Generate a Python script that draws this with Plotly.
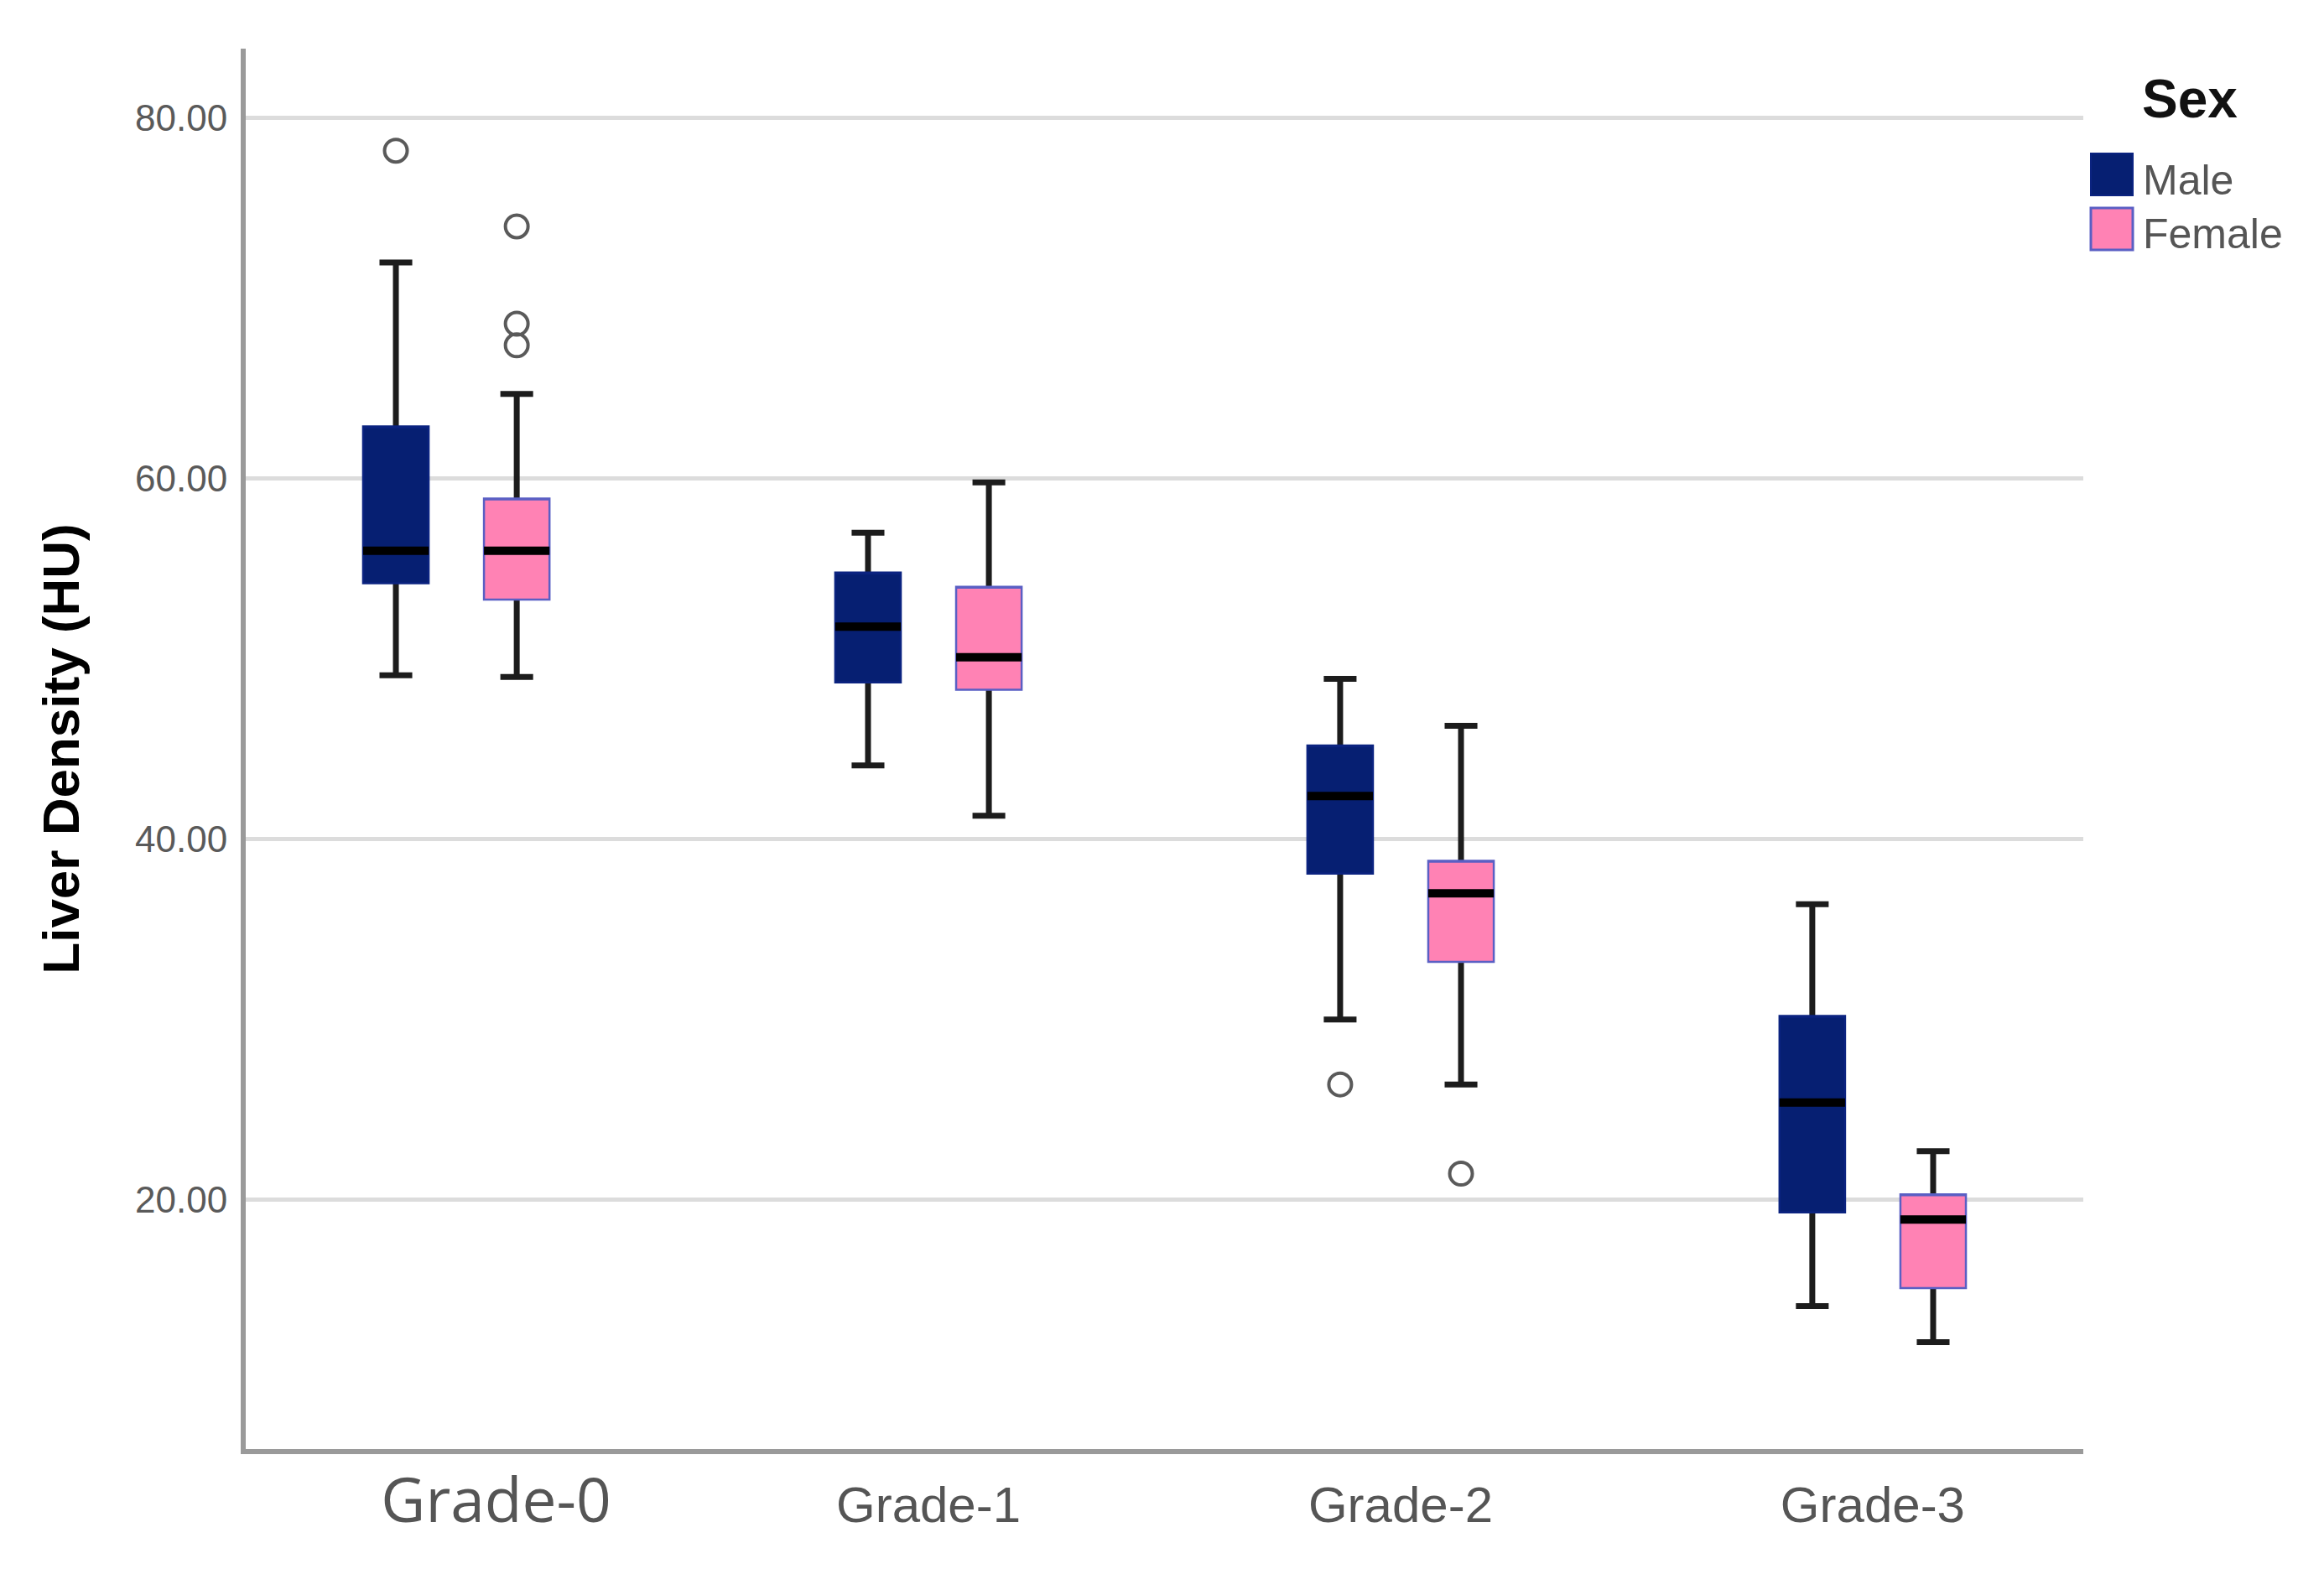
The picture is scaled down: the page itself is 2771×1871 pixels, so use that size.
import plotly.graph_objects as go

# ---------------- data ----------------
categories = ["Grade-0", "Grade-1", "Grade-2", "Grade-3"]
tick_labels = ["Grade-0", "Grade-1", "Grade-2", "Grade-3"]
y_ticks = [20, 40, 60, 80]

male_lower = [49.1, 44.1, 30.0, 14.1]
male_q1 = [54.2, 48.7, 38.1, 19.3]
male_median = [56.0, 51.8, 42.4, 25.4]
male_q3 = [62.9, 54.8, 45.2, 30.2]
male_upper = [72.0, 57.0, 48.9, 36.4]
male_outliers = [[78.2], [], [26.4], []]

female_lower = [49.0, 41.3, 26.4, 12.1]
female_q1 = [53.3, 48.3, 33.2, 15.1]
female_median = [56.0, 50.1, 37.0, 18.9]
female_q3 = [58.9, 54.0, 38.8, 20.3]
female_upper = [64.7, 59.8, 46.3, 22.7]
female_outliers = [[74.0, 68.6, 67.4], [], [21.45], []]

# ---------------- figure ----------------
# the page body has an 8px margin, so the figure is shrunk by that amount
BODY = 8
W, H = 2771 - BODY, 1871 - BODY
ML, MT = 293 - BODY, 58 - BODY
PW, PH = 2191, 1670
MR, MB = W - ML - PW, H - MT - PH

MALE_FILL, MALE_LINE = "#061f72", "#0b2380"
FEMALE_FILL, FEMALE_LINE = "#ff82b4", "#5a5fc4"

fig = go.Figure()


def add_group(name, lower, q1, med, q3, upper, outliers, fill, outline):
    common = dict(x=categories, orientation="v", offsetgroup=name,
                  alignmentgroup="all", showlegend=False, hoverinfo="skip")
    # whiskers, caps and outliers
    fig.add_trace(go.Box(
        q1=med, median=med, q3=med, lowerfence=lower, upperfence=upper,
        y=outliers, boxpoints="all", jitter=0, pointpos=0,
        marker=dict(symbol="circle-open", size=27, color="#5a5a5a",
                    line=dict(width=4, color="#5a5a5a")),
        line=dict(color="#1c1c1c", width=7), whiskerwidth=0.5,
        fillcolor="rgba(0,0,0,0)", name=name, **common))
    # the box body
    fig.add_trace(go.Box(
        q1=q1, median=q3, q3=q3, lowerfence=q1, upperfence=q3,
        boxpoints=False, whiskerwidth=0, fillcolor=fill,
        line=dict(color=outline, width=2.5), name=name, **common))
    # the median bar
    fig.add_trace(go.Box(
        q1=med, median=med, q3=med, lowerfence=med, upperfence=med,
        boxpoints=False, whiskerwidth=0, fillcolor="rgba(0,0,0,0)",
        line=dict(color="#000000", width=10), name=name, **common))


add_group("Male", male_lower, male_q1, male_median, male_q3, male_upper,
          male_outliers, MALE_FILL, MALE_LINE)
add_group("Female", female_lower, female_q1, female_median, female_q3,
          female_upper, female_outliers, FEMALE_FILL, FEMALE_LINE)

ticktext = []
for i, t in enumerate(tick_labels):
    if i == 0:
        ticktext.append('<span style="font-family:Open Sans;font-size:73px">'
                        + "\u00a0" * 5 + t + "</span>")
    else:
        ticktext.append(t)


def px_x(px):
    # window pixel -> paper coordinate
    return (px - BODY - ML) / PW


def px_y(py):
    return (MT + PH - (py - BODY)) / PH


shapes = [
    dict(type="rect", xref="paper", yref="paper",
         x0=px_x(2493), x1=px_x(2543), y0=px_y(233), y1=px_y(183),
         fillcolor=MALE_FILL, line=dict(color=MALE_LINE, width=2)),
    dict(type="rect", xref="paper", yref="paper",
         x0=px_x(2493), x1=px_x(2543), y0=px_y(298), y1=px_y(248),
         fillcolor=FEMALE_FILL, line=dict(color=FEMALE_LINE, width=3)),
]
annotations = [
    dict(text="<b>Sex</b>", xref="paper", yref="paper", x=px_x(2611), y=px_y(118),
         xanchor="center", yanchor="middle", showarrow=False,
         font=dict(family="Liberation Sans, Arial", size=64, color="#111111")),
    dict(text="Male", xref="paper", yref="paper", x=px_x(2553), y=px_y(215),
         xanchor="left", yanchor="middle", showarrow=False,
         font=dict(family="Liberation Sans, Arial", size=50, color="#555555")),
    dict(text="Female", xref="paper", yref="paper", x=px_x(2553), y=px_y(279),
         xanchor="left", yanchor="middle", showarrow=False,
         font=dict(family="Liberation Sans, Arial", size=50, color="#555555")),
]

fig.update_layout(
    width=W, height=H,
    margin=dict(l=ML, r=MR, t=MT, b=MB, pad=0),
    paper_bgcolor="white", plot_bgcolor="white",
    boxmode="group", boxgap=0.488, boxgroupgap=0.458,
    showlegend=False,
    shapes=shapes, annotations=annotations,
    font=dict(family="Liberation Sans, Arial", color="#555555"),
)
fig.update_xaxes(
    type="category", categoryorder="array", categoryarray=categories,
    range=[-0.446, 3.446], tickvals=categories, ticktext=ticktext,
    showgrid=False, zeroline=False, showline=True, linecolor="#9a9a9a",
    linewidth=6, ticks="", ticklabelstandoff=9,
    tickfont=dict(family="Liberation Sans, Arial", size=60, color="#555555"),
    automargin=False,
)
fig.update_yaxes(
    range=[6.17, 83.86], tickvals=y_ticks, tickformat=".2f",
    showgrid=True, gridcolor="#dcdcdc", gridwidth=5, zeroline=False,
    showline=True, linecolor="#9a9a9a", linewidth=6, ticks="",
    ticklabelstandoff=7,
    tickfont=dict(family="Liberation Sans, Arial", size=44, color="#5a5a5a"),
    title=dict(text="<b>Liver Density (HU)</b>", standoff=48,
               font=dict(family="Liberation Sans, Arial", size=62, color="#000000")),
    automargin=False,
)

fig.write_html("out.html")
